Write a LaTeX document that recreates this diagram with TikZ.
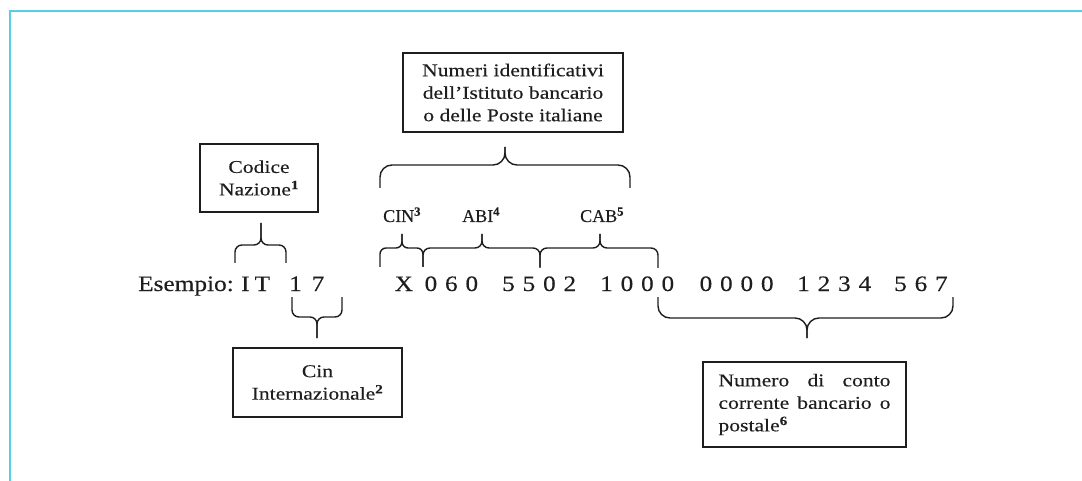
\documentclass[tikz,border=0pt]{standalone}
\usepackage{fontspec}
\setmainfont{Liberation Serif}
\newfontfamily\boxf[FakeStretch=1.2,FakeBold=0.3]{Liberation Serif}
\newfontfamily\rowf[FakeStretch=1.15,FakeBold=0.3]{Liberation Serif}
\newfontfamily\labf[FakeBold=0.3]{Liberation Serif}
\definecolor{cyanframe}{RGB}{88,206,230}
\definecolor{ink}{RGB}{30,30,30}
\newcommand\dg{\hspace{7.8pt}}
\newcommand\sups[1]{\textsuperscript{\bfseries #1}}
% #1 radius, #2 x left, #3 x right, #4 x tip, #5 y of ends, #6 y of bar, #7 y of tip
\newcommand\bracedraw[7]{%
  \draw[brc, rounded corners=#1] (#2,#5) -- (#2,#6) -- (#4,#6) -- (#4,#7);
  \draw[brc, rounded corners=#1] (#3,#5) -- (#3,#6) -- (#4,#6) -- (#4,#7);}
\begin{document}
\begin{tikzpicture}[x=1pt,y=-1pt,
  box/.style={draw=ink, line width=1.6pt, inner sep=0pt, text=ink, align=center,
    font=\boxf\fontsize{18}{22.5}\selectfont},
  row/.style={anchor=base west, inner sep=0pt, text=ink,
    font=\rowf\fontsize{22}{26}\selectfont},
  lab/.style={anchor=base west, inner sep=0pt, text=ink,
    font=\labf\fontsize{18}{22}\selectfont},
  brc/.style={draw=ink, line width=1.4pt}]
\useasboundingbox (0,0) rectangle (1082,481);
\draw[cyanframe, line width=2pt] (10,481) -- (10,11) -- (1082,11);

% boxes
\node[box, minimum width=220pt, minimum height=79pt] (ist) at (513,92.5)
  {Numeri identificativi\\dell’Istituto bancario\\o delle Poste italiane};
\node[box, minimum width=118pt, minimum height=68pt] (naz) at (259,178)
  {Codice\\Nazione\sups{1}};
\node[box, minimum width=169pt, minimum height=69pt] (cin) at (317.5,382.5)
  {Cin\\Internazionale\sups{2}};
\node[box, minimum width=203pt, minimum height=85pt, text width=172pt, align=justify] (conto) at (804.5,404.5)
  {Numero di conto\linebreak corrente bancario o\linebreak postale\sups{6}};

% example row
\node[row] (es) at (138,291) {Esempio:};
\node[row] (it) at (241,291) {I\hspace{5pt}T};
\node[row] (c1) at (289,291) {1};
\node[row] (c7) at (311.5,291) {7};
\node[row] (x) at (394.5,291) {X};
\node[row] (g1) at (424.4,291) {0\dg6\dg0};
\node[row] (g2) at (502,291) {5\dg5\dg0\dg2};
\node[row] (g3) at (600,291) {1\dg0\dg0\dg0};
\node[row] (g4) at (699.4,291) {0\dg0\dg0\dg0};
\node[row] (g5) at (797,291) {1\dg2\dg3\dg4};
\node[row] (g6) at (894,291) {5\dg6\dg7};

% labels
\node[lab] (lcin) at (383,222) {CIN\sups{3}};
\node[lab] (labi) at (462,222) {ABI\sups{4}};
\node[lab] (lcab) at (580,222) {CAB\sups{5}};

% braces
\bracedraw{7}{235}{286}{261}{263}{245}{223}
\bracedraw{7}{292}{342}{317}{297}{317}{338}
\bracedraw{6}{380}{423}{402}{267}{248}{234}
\bracedraw{7}{423}{540}{482}{267}{248}{234}
\bracedraw{7}{540}{658}{600}{268}{248}{234}
\bracedraw{12}{380}{630}{505}{188}{165}{147}
\bracedraw{12}{658}{953}{807}{297}{318}{338}
\end{tikzpicture}
\end{document}
